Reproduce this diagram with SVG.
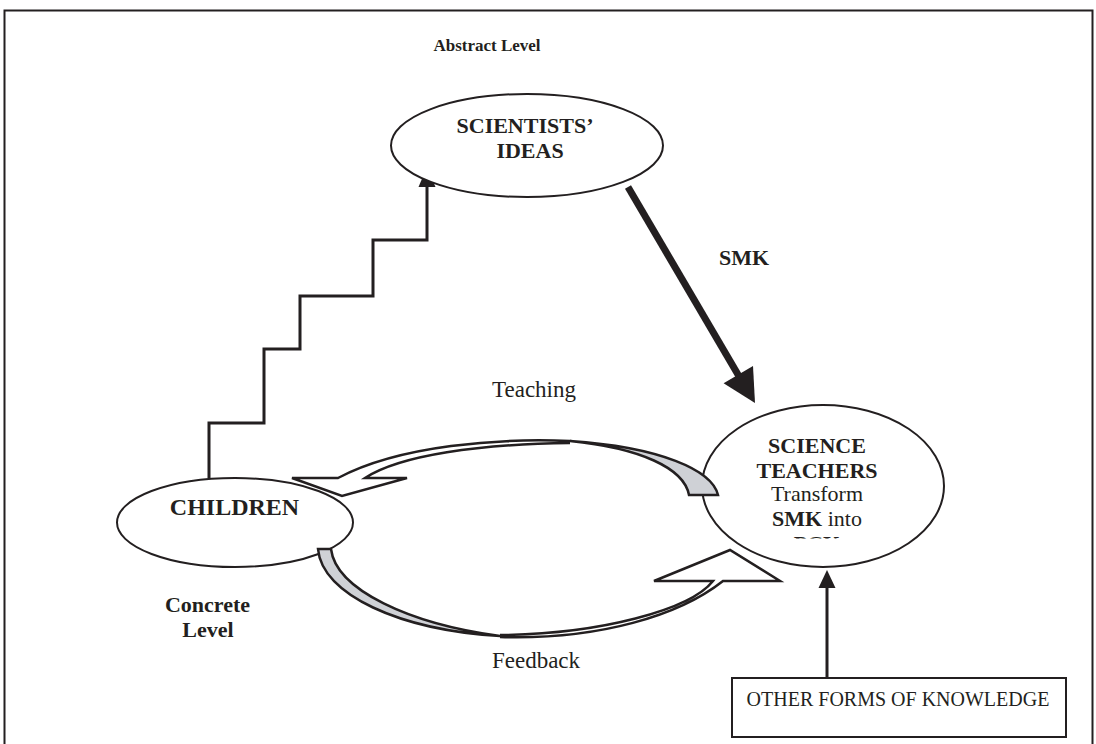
<svg xmlns="http://www.w3.org/2000/svg" width="1096" height="744" viewBox="0 0 1096 744">
<style>
text{font-family:"Liberation Serif","Times New Roman",serif;fill:#231f20}
.b{font-weight:bold}
.node{fill:#fff;stroke:#231f20;stroke-width:2}
.line{fill:none;stroke:#231f20;stroke-width:3}
.head{fill:#231f20;stroke:none}
.ribbon{fill:#fff;stroke:#231f20;stroke-width:2.5;stroke-linejoin:miter}
.gray{fill:#cfd1d6;stroke:#231f20;stroke-width:2.5}
</style>
<defs>
<clipPath id="pckclip"><rect x="700" y="520" width="240" height="18.5"/></clipPath>
</defs>
<rect x="4.5" y="10.5" width="1088" height="800" fill="#fff" stroke="#231f20" stroke-width="2"/>
<text class="b" x="487" y="51" font-size="17" text-anchor="middle">Abstract Level</text>
<g id="connectors">
<polyline class="line" points="209,478 209,423 264,423 264,349 300,349 300,296 373,296 373,240 427,240 427,184"/>
<polygon class="head" points="427,167 418.5,187 435.5,187"/>
<line x1="628" y1="187" x2="740" y2="378" stroke="#231f20" stroke-width="7"/>
<polygon class="head" points="755,403 723.6,383.2 753,366"/>
<text class="b" x="744" y="265" font-size="22" text-anchor="middle">SMK</text>
<line x1="827" y1="678" x2="827" y2="586" stroke="#231f20" stroke-width="3"/>
<polygon class="head" points="827,570 818.5,588 835.5,588"/>
</g>
<g id="scientists">
<ellipse class="node" cx="527" cy="145.5" rx="136" ry="51.5"/>
<text class="b" x="525" y="133" font-size="22" text-anchor="middle">SCIENTISTS’</text>
<text class="b" x="530" y="158" font-size="22" text-anchor="middle">IDEAS</text>
</g>
<g id="children">
<ellipse class="node" cx="235" cy="522.5" rx="118" ry="44.5"/>
<text class="b" x="234.5" y="515" font-size="24" text-anchor="middle">CHILDREN</text>
</g>
<g id="teachers">
<ellipse class="node" cx="823" cy="486" rx="121" ry="81"/>
<text class="b" x="817" y="453" font-size="22" text-anchor="middle">SCIENCE</text>
<text class="b" x="817" y="478" font-size="22" text-anchor="middle">TEACHERS</text>
<text x="817" y="501" font-size="22" text-anchor="middle">Transform</text>
<text x="817" y="526" font-size="22" text-anchor="middle"><tspan class="b">SMK</tspan> into</text>
<text class="b" x="817" y="551" font-size="22" text-anchor="middle" clip-path="url(#pckclip)">PCK</text>
</g>
<g id="teaching-arrow">
<path class="gray" d="M689,495 L718,495 C712,470 660,447 570,441 C640,448 684,468 689,495 Z"/>
<path class="ribbon" d="M570,441 C500,438 400,445 338,478 L292,478 L342,496 L407,478 L365,478 C400,455 480,444 570,443"/>
<text x="534" y="397" font-size="23" text-anchor="middle">Teaching</text>
</g>
<g id="feedback-arrow">
<path class="gray" d="M318,549 L331,549 C336,590 410,624 500,636 C400,630 322,595 318,549 Z"/>
<path class="ribbon" d="M500,637 C600,640 680,615 723,581 L780,581 L730,550 L654,581 L713,581 C690,610 600,634 500,635"/>
<text x="536" y="668" font-size="23" text-anchor="middle">Feedback</text>
</g>
<g id="concrete-level">
<text class="b" x="207.5" y="612" font-size="22" text-anchor="middle">Concrete</text>
<text class="b" x="208" y="637" font-size="22" text-anchor="middle">Level</text>
</g>
<g id="other-knowledge">
<rect x="732" y="678" width="334" height="59" fill="#fff" stroke="#231f20" stroke-width="2"/>
<text x="898" y="706" font-size="20" text-anchor="middle">OTHER FORMS OF KNOWLEDGE</text>
</g>
</svg>
